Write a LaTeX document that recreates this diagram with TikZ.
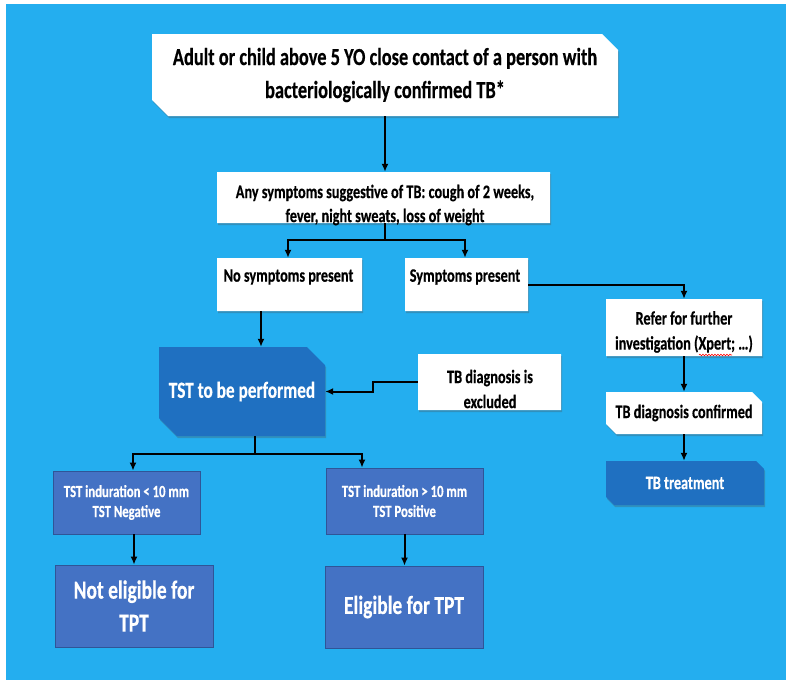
\documentclass[tikz,border=0pt]{standalone}
\usepackage{fontspec}
\newfontfamily\cf[FakeStretch=0.75,FakeBold=0.4]{Carlito}
\usetikzlibrary{shapes.misc,shadows,arrows.meta,decorations.pathmorphing}
\definecolor{bgblue}{RGB}{36,174,239}
\definecolor{darkbox}{RGB}{31,112,193}
\definecolor{medbox}{RGB}{68,114,196}
\definecolor{medline}{RGB}{47,85,151}
\begin{document}
\begin{tikzpicture}[x=1pt,y=-1pt,
  snip/.style={chamfered rectangle, chamfered rectangle corners={north east,south west},
    chamfered rectangle xsep=#1, chamfered rectangle ysep=#1, inner sep=0pt},
  wbox/.style={snip=#1, fill=white, draw=none,
    drop shadow={shadow xshift=1pt, shadow yshift=-2pt, opacity=0.3, fill=black!70}},
  dbox/.style={snip=#1, fill=darkbox, draw=none, text=white,
    drop shadow={shadow xshift=1pt, shadow yshift=-2pt, opacity=0.3, fill=black!70}},
  mbox/.style={rectangle, fill=medbox, draw=medline, line width=0.8pt, text=white, inner sep=0pt},
  txt/.style={align=center, inner sep=0pt},
  conn/.style={line width=2pt, -{Latex[length=8pt,width=7pt]}},
  seg/.style={line width=2pt}]
\useasboundingbox (0,0) rectangle (786,680);
\fill[white] (0,0) rectangle (786,680);
\fill[bgblue] (6,4) rectangle (786,680);

% boxes
\node[wbox=8pt, minimum width=466pt, minimum height=82pt, txt,
  font=\cf\bfseries\fontsize{24.5}{33}\selectfont] (top) at (385,75)
  {Adult or child above 5 YO close contact of a person with\\bacteriologically confirmed TB*};
\node[wbox=6pt, minimum width=333pt, minimum height=51pt] (sym) at (383.5,197.5) {};
\node[txt, font=\cf\bfseries\fontsize{19}{24}\selectfont] (symt) at (385,205)
  {Any symptoms suggestive of TB: cough of 2 weeks,\\fever, night sweats, loss of weight};
\node[wbox=5pt, minimum width=145pt, minimum height=53pt] (nosym) at (289.5,284.5) {};
\node[txt, font=\cf\bfseries\fontsize{19}{24}\selectfont] (nosymt) at (288.5,277) {No symptoms present};
\node[wbox=5pt, minimum width=123pt, minimum height=53pt] (yessym) at (466.5,284.5) {};
\node[txt, font=\cf\bfseries\fontsize{19}{24}\selectfont] (yessymt) at (465,277) {Symptoms present};
\node[wbox=5pt, minimum width=156pt, minimum height=57pt] (refer) at (684,327.5) {};
\node[txt, font=\cf\bfseries\fontsize{19}{25}\selectfont] (refert) at (684,332)
  {Refer for further\\investigation (Xpert; \dots)};
\node[wbox=5pt, minimum width=156pt, minimum height=42pt, txt,
  font=\cf\bfseries\fontsize{19}{24}\selectfont] (conf) at (684,413) {TB diagnosis confirmed};
\node[dbox=4pt, minimum width=158pt, minimum height=44pt, txt,
  font=\cf\bfseries\fontsize{19}{24}\selectfont] (treat) at (685,483) {TB treatment};
\node[dbox=9pt, minimum width=166pt, minimum height=89pt, txt,
  font=\cf\bfseries\fontsize{23}{28}\selectfont] (tst) at (242,391.5) {TST to be performed};
\node[wbox=5pt, minimum width=143pt, minimum height=56pt] (excl) at (489.5,382) {};
\node[txt, font=\cf\bfseries\fontsize{19}{25}\selectfont] (exclt) at (490,389)
  {TB diagnosis is\\excluded};
\node[mbox, minimum width=147pt, minimum height=63pt, txt,
  font=\cf\bfseries\fontsize{17}{20}\selectfont] (neg) at (126.5,502.5)
  {TST induration < 10 mm\\TST Negative};
\node[mbox, minimum width=157pt, minimum height=66pt, txt,
  font=\cf\bfseries\fontsize{17}{20}\selectfont] (pos) at (404.5,501)
  {TST induration > 10 mm\\TST Positive};
\node[mbox, minimum width=158pt, minimum height=82pt, txt,
  font=\cf\bfseries\fontsize{26}{33}\selectfont] (noel) at (134,606)
  {Not eligible for\\TPT};
\node[mbox, minimum width=158pt, minimum height=82pt, txt,
  font=\cf\bfseries\fontsize{26}{33}\selectfont] (el) at (404,607) {Eligible for TPT};

% spell-check squiggle
\coordinate (sqa) at (699,355);
\coordinate (sqb) at (732,355);
\draw[red, line width=0.6pt, decorate, decoration={snake, amplitude=0.8pt, segment length=3pt}] (sqa) -- (sqb);

% connectors
\draw[conn] (top.south) -- (top.south |- sym.north);
\coordinate (j1) at (385,240);
\draw[seg] (sym.south -| j1) -- (j1);
\draw[conn] (j1) -| ([xshift=-1.5pt]nosym.north);
\draw[conn] (j1) -| ([xshift=-1.5pt]yessym.north);
\draw[conn] (yessym.east) -| (refer.north);
\draw[conn] (refer.south) -- (conf.north);
\draw[conn] (conf.south) -- (conf.south |- treat.north);
\coordinate (a1) at (261,0);
\draw[conn] (nosym.south -| a1) -- (tst.north -| a1);
\coordinate (k) at (373,391.5);
\draw[conn] (excl.west) -| (k) -- (tst.east);
\coordinate (j2) at (255,454);
\draw[seg] (tst.south -| j2) -- (j2);
\draw[conn] (j2) -| ([xshift=6.5pt]neg.north);
\draw[conn] (j2) -| ([xshift=-42.5pt]pos.north);
\draw[conn] (noel.north |- neg.south) -- (noel.north);
\draw[conn] (pos.south) -- (pos.south |- el.north);
\end{tikzpicture}
\end{document}
